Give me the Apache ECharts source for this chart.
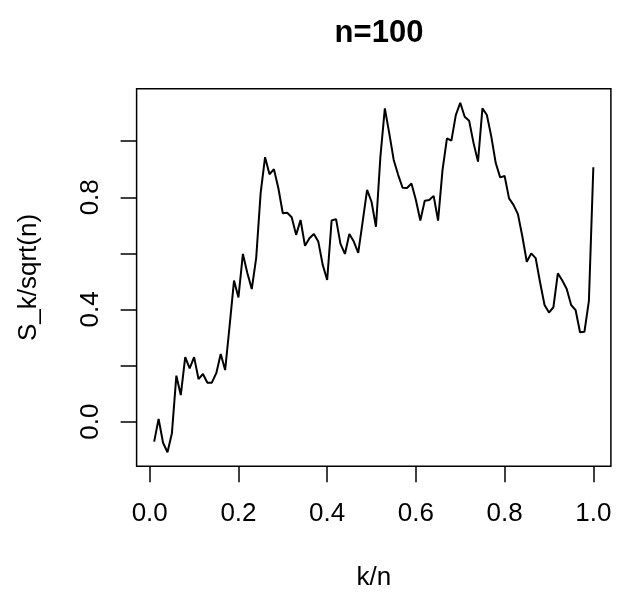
<!DOCTYPE html>
<html>
<head>
<meta charset="utf-8">
<script src="https://cdn.jsdelivr.net/npm/echarts@6/dist/echarts.min.js"></script>
<style>
  html, body { margin: 0; padding: 0; background: #fff; }
  #chart { width: 617px; height: 597px; }
</style>
</head>
<body>
<div id="chart"></div>
<script>
// random walk S_k / sqrt(n), n = 100
const n = 100;
const walkValues = [
  -0.071, 0.010, -0.075, -0.109, -0.041, 0.164, 0.095, 0.230, 0.190, 0.230,
  0.152, 0.170, 0.139, 0.139, 0.173, 0.241, 0.184, 0.341, 0.503, 0.443,
  0.598, 0.530, 0.473, 0.584, 0.815, 0.943, 0.882, 0.900, 0.832, 0.743,
  0.745, 0.729, 0.666, 0.719, 0.627, 0.654, 0.669, 0.642, 0.559, 0.505,
  0.717, 0.722, 0.634, 0.598, 0.669, 0.642, 0.602, 0.713, 0.826, 0.784,
  0.695, 0.945, 1.117, 1.028, 0.933, 0.880, 0.834, 0.833, 0.849, 0.790,
  0.717, 0.788, 0.790, 0.805, 0.717, 0.897, 1.010, 1.002, 1.093, 1.137,
  1.087, 1.073, 0.993, 0.927, 1.117, 1.093, 1.016, 0.922, 0.871, 0.876,
  0.796, 0.773, 0.740, 0.660, 0.570, 0.600, 0.583, 0.496, 0.416, 0.389,
  0.408, 0.529, 0.503, 0.473, 0.416, 0.398, 0.319, 0.321, 0.431, 0.907
];
const xTicks = [0, 0.2, 0.4, 0.6, 0.8, 1.0];
const yTicks = [0, 0.2, 0.4, 0.6, 0.8, 1.0];
const yLabels = [0, 0.4, 0.8];

const points = walkValues.map((v, i) => [(i + 1) / n, v]);

const font = "Liberation Sans";
const chart = echarts.init(document.getElementById("chart"), null, { renderer: "canvas" });

chart.setOption({
  animation: false,
  backgroundColor: "#fff",
  title: {
    text: "n=" + n,
    left: 374,
    top: 13,
    textAlign: "center",
    textStyle: { fontFamily: font, fontWeight: "bold", fontSize: 31, color: "#000" }
  },
  grid: {
    left: 136.6, right: 6.1, top: 88.7, bottom: 130.7,
    show: true, borderColor: "#000", borderWidth: 1.5, backgroundColor: "transparent"
  },
  xAxis: {
    type: "value",
    position: "bottom",
    min: -0.0296, max: 1.0396,
    name: "k/n",
    nameLocation: "middle",
    nameGap: 112,
    nameTextStyle: { fontFamily: font, fontSize: 26, color: "#000", verticalAlign: "middle" },
    splitLine: { show: false },
    axisLine: { show: false, onZero: false },
    axisTick: { show: true, length: 16, customValues: xTicks, lineStyle: { color: "#000", width: 1.5 } },
    axisLabel: {
      customValues: xTicks, margin: 35,
      fontFamily: font, fontSize: 26, color: "#000",
      formatter: v => v.toFixed(1)
    }
  },
  yAxis: {
    type: "value",
    position: "left",
    min: -0.159, max: 1.187,
    name: "S_k/sqrt(n)",
    nameLocation: "middle",
    nameGap: 108,
    nameTextStyle: { fontFamily: font, fontSize: 26, color: "#000", verticalAlign: "middle" },
    splitLine: { show: false },
    axisLine: { show: false, onZero: false },
    axisTick: { show: true, length: 16, customValues: yTicks, lineStyle: { color: "#000", width: 1.5 } },
    axisLabel: {
      customValues: yLabels, margin: 33, rotate: 90,
      fontFamily: font, fontSize: 26, color: "#000",
      formatter: v => v.toFixed(1)
    }
  },
  series: [{
    type: "line",
    data: points,
    showSymbol: false,
    silent: true,
    lineStyle: { color: "#000", width: 2 },
    itemStyle: { color: "#000" }
  }]
});
</script>
</body>
</html>
